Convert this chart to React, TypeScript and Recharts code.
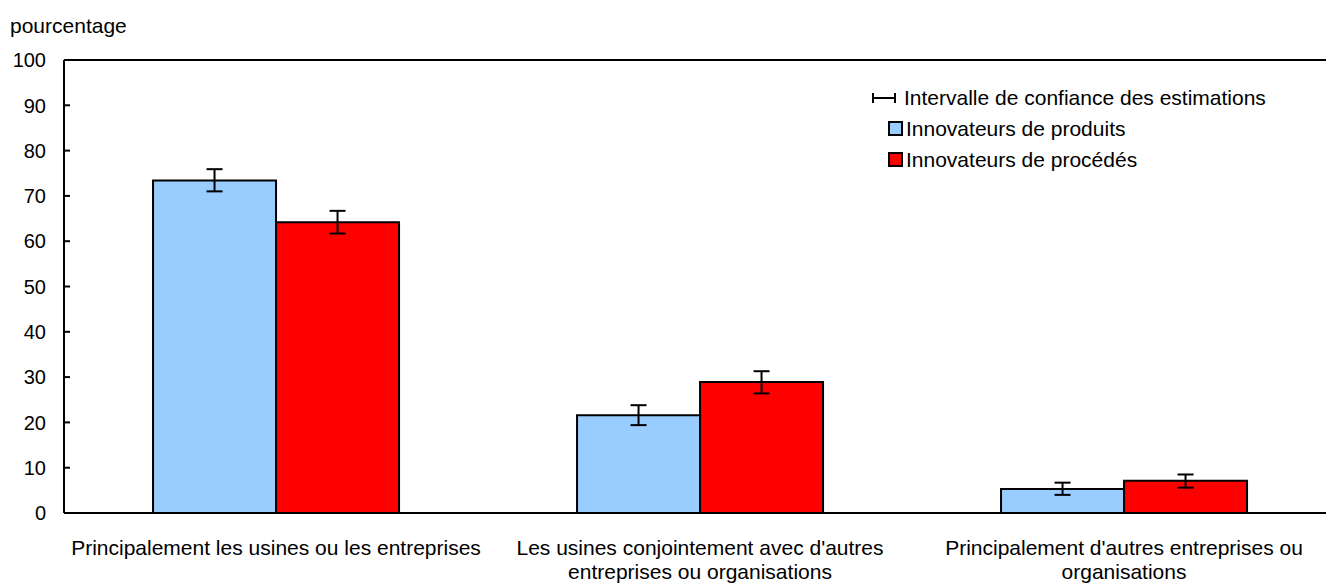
import { BarChart, Bar, XAxis, YAxis, ErrorBar, ReferenceLine } from 'recharts';

const categories = [
  'Principalement les usines ou les entreprises',
  "Les usines conjointement avec d'autres\nentreprises ou organisations",
  "Principalement d'autres entreprises ou\norganisations",
];

const produits = [73.4, 21.6, 5.3];
const produitsLow = [71.0, 19.4, 4.0];
const produitsHigh = [75.9, 23.8, 6.7];

const procedes = [64.2, 28.9, 7.1];
const procedesLow = [61.7, 26.4, 5.6];
const procedesHigh = [66.7, 31.3, 8.5];

const yTicks = [0, 10, 20, 30, 40, 50, 60, 70, 80, 90, 100];

const data = categories.map((name, i) => ({
  name,
  produits: produits[i],
  produitsErr: [produits[i] - produitsLow[i], produitsHigh[i] - produits[i]],
  procedes: procedes[i],
  procedesErr: [procedes[i] - procedesLow[i], procedesHigh[i] - procedes[i]],
}));

const FONT = '"Liberation Sans", Arial, sans-serif';

function YTick(props: any) {
  const { x, y, payload } = props;
  return (
    <g>
      {payload.value !== 0 && payload.value !== 100 && (
        <line x1={x} y1={y} x2={x + 6} y2={y} stroke="#000" strokeWidth={2} />
      )}
      <text x={x - 18} y={y} dy="0.36em" textAnchor="end" fontSize={20} fill="#000" fontFamily={FONT}>
        {payload.value}
      </text>
    </g>
  );
}

function XTick(props: any) {
  const { x, y, payload } = props;
  const lines = String(payload.value).split('\n');
  return (
    <text x={x} y={y + 34} textAnchor="middle" fontSize={21} fill="#000" fontFamily={FONT}>
      {lines.map((l, i) => (
        <tspan key={i} x={x} dy={i === 0 ? 0 : 24}>
          {l}
        </tspan>
      ))}
    </text>
  );
}

export default function App() {
  return (
    <div
      style={{
        position: 'absolute',
        left: 0,
        top: 0,
        width: 1326,
        height: 584,
        overflow: 'hidden',
        background: '#fff',
        fontFamily: FONT,
      }}
    >
      <div style={{ position: 'absolute', left: 10, top: 14, fontSize: 21, color: '#000' }}>pourcentage</div>

      <BarChart
        width={1336}
        height={584}
        data={data}
        margin={{ top: 60, right: 0, bottom: 0, left: 0 }}
        barCategoryGap="21%"
        barGap={0}
      >
        <XAxis
          dataKey="name"
          height={71}
          tickLine={false}
          tick={<XTick />}
          axisLine={false}
          interval={0}
        />
        <YAxis
          width={64}
          domain={[0, 100]}
          ticks={yTicks}
          tickLine={false}
          tickSize={0}
          tickMargin={0}
          tick={<YTick />}
          axisLine={{ stroke: '#000', strokeWidth: 2 }}
          interval={0}
        />
        <ReferenceLine y={100} stroke="#000" strokeWidth={2} ifOverflow="visible" />
        <Bar dataKey="produits" fill="#99CCFF" stroke="#000" strokeWidth={2} isAnimationActive={false}>
          <ErrorBar dataKey="produitsErr" width={8} stroke="#000" strokeWidth={2} />
        </Bar>
        <Bar dataKey="procedes" fill="#FF0000" stroke="#000" strokeWidth={2} isAnimationActive={false}>
          <ErrorBar dataKey="procedesErr" width={8} stroke="#000" strokeWidth={2} />
        </Bar>
        <ReferenceLine y={0} stroke="#000" strokeWidth={2} ifOverflow="visible" />
      </BarChart>

      <div style={{ position: 'absolute', left: 872, top: 82, fontSize: 21, color: '#000', lineHeight: '31px' }}>
        <div style={{ display: 'flex', alignItems: 'center' }}>
          <svg width={24} height={12} style={{ marginRight: 8 }}>
            <line x1={1} y1={6} x2={23} y2={6} stroke="#000" strokeWidth={2} />
            <line x1={1} y1={1} x2={1} y2={11} stroke="#000" strokeWidth={2} />
            <line x1={23} y1={1} x2={23} y2={11} stroke="#000" strokeWidth={2} />
          </svg>
          <span>Intervalle de confiance des estimations</span>
        </div>
        <div style={{ display: 'flex', alignItems: 'center', marginLeft: 16 }}>
          <span
            style={{ display: 'inline-block', width: 11, height: 11, background: '#99CCFF', border: '2px solid #000', marginRight: 3 }}
          />
          <span>Innovateurs de produits</span>
        </div>
        <div style={{ display: 'flex', alignItems: 'center', marginLeft: 16 }}>
          <span
            style={{ display: 'inline-block', width: 11, height: 11, background: '#FF0000', border: '2px solid #000', marginRight: 3 }}
          />
          <span>Innovateurs de procédés</span>
        </div>
      </div>
    </div>
  );
}
